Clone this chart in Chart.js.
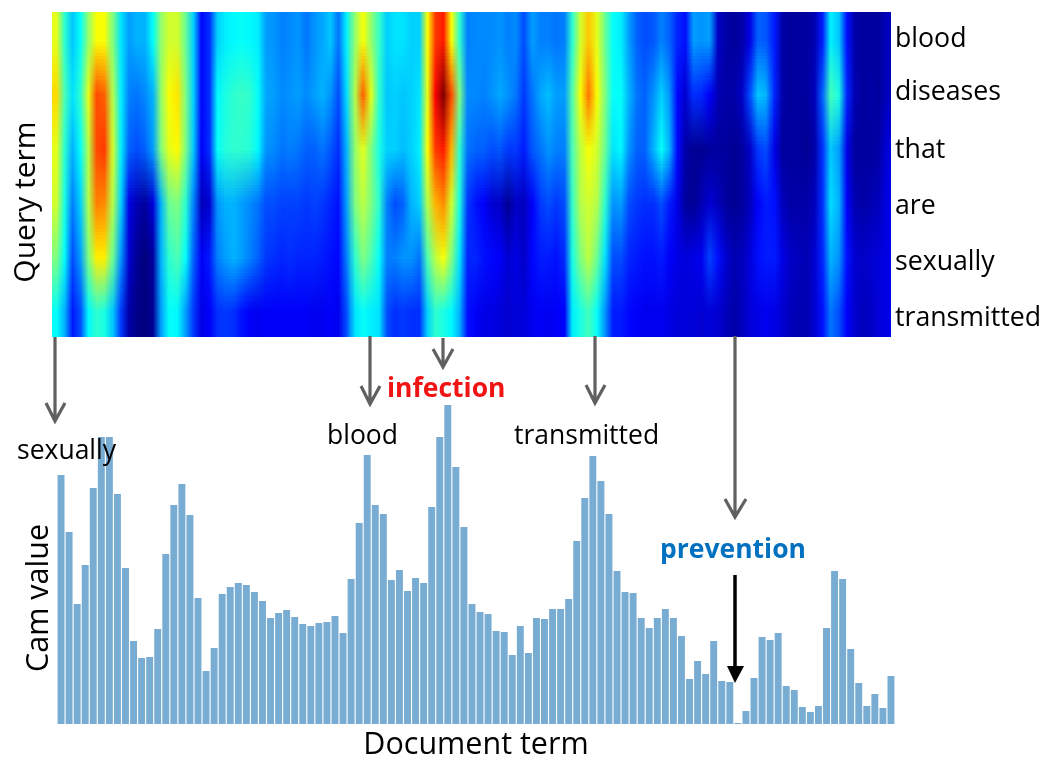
<!DOCTYPE html>
<html>
<head>
<meta charset="utf-8">
<script src="https://cdn.jsdelivr.net/npm/chart.js@4"></script>
<style>
    html, body { margin: 0; padding: 0; background: #fff; overflow: hidden; }
    #page { position: relative; width: 1055px; height: 768px; font-family: "Open Sans", sans-serif; color: #000; }
    #heatBox { position: absolute; left: 0; top: 0; width: 1055px; height: 345px; }
    #barBox { position: absolute; left: 0; top: 390px; width: 1055px; height: 378px; }
    #arrows { position: absolute; left: 0; top: 0; }
    .label { position: absolute; white-space: nowrap; font-size: 26.5px; line-height: 30px; transform: translateY(-50%); }
    .bold { font-weight: 700; }
    .side { position: absolute; white-space: nowrap; font-size: 30px; line-height: 34px; transform: translate(-50%, -50%) rotate(-90deg); }
</style>
</head>
<body>
<div id="page">
    <div id="heatBox"><canvas id="heatChart"></canvas></div>
    <div id="barBox"><canvas id="camChart"></canvas></div>
    <svg id="arrows" width="1055" height="768">
        <g fill="none" stroke="#606060" stroke-width="3.2">
            <path d="M55 337V421M46 403L55 421L65 403"/>
            <path d="M370 336V404M361 386L370 404L380 386"/>
            <path d="M443 338V367M433 349L443 367L453 349"/>
            <path d="M595 336V403M586 385L595 403L605 385"/>
            <path d="M735 336V517M725 499L735 517L746 499"/>
        </g>
        <path d="M735 575V668" fill="none" stroke="#000" stroke-width="3.5"/>
        <path d="M727 666H744L735 683Z" fill="#000"/>
    </svg>
    <div class="side" style="left:24px;top:202px">Query term</div>
    <div class="side" style="left:36px;top:598px;font-size:30.5px">Cam value</div>
    <div class="label" style="left:17px;top:449px">sexually</div>
    <div class="label" style="left:327px;top:434px">blood</div>
    <div class="label" style="left:514px;top:434px">transmitted</div>
    <div class="label bold" style="left:387px;top:387px;color:#f01414">infection</div>
    <div class="label bold" style="left:660px;top:548px;color:#0070c0">prevention</div>
</div>
<script>
    // Query terms, top row first
    const queryTerms = ['blood', 'diseases', 'that', 'are', 'sexually', 'transmitted'];
    // Where each query term label sits on the row axis (0 bottom, 6 top)
    const queryTickValues = [5.5, 4.52, 3.45, 2.42, 1.38, 0.35];

    // Cam value per document term
    const camValues = [249, 192, 120, 159, 236, 287, 287, 230, 156, 83, 66, 67, 95, 170, 219, 240, 209, 126, 53, 76, 130, 137, 141, 139, 132, 123, 106, 111, 114, 107, 100, 98, 101, 102, 108, 91, 145, 201, 269, 219, 210, 144, 154, 133, 146, 141, 217, 287, 319, 257, 197, 120, 112, 110, 93, 92, 69, 98, 71, 106, 105, 115, 115, 125, 183, 226, 268, 243, 210, 153, 132, 131, 106, 96, 106, 115, 106, 88, 45, 63, 50, 83, 43, 42, 1, 13, 46, 87, 84, 91, 38, 34, 17, 12, 18, 96, 153, 145, 75, 41, 18, 30, 16, 48];

    // Heatmap rows, value 0..1 per document term
    const rowBlood = [.6, .42, .32, .38, .52, .62, .62, .5, .35, .28, .3, .3, .38, .52, .58, .58, .48, .33, .13, .17, .33, .36, .37, .38, .37, .36, .28, .27, .25, .26, .27, .24, .27, .29, .32, .24, .36, .52, .62, .52, .43, .33, .35, .35, .33, .33, .62, .82, .85, .62, .42, .25, .26, .26, .26, .27, .25, .26, .2, .28, .25, .25, .24, .25, .42, .58, .68, .6, .48, .38, .36, .28, .22, .2, .21, .25, .22, .16, .14, .28, .27, .28, .07, .04, .03, .04, .1, .22, .21, .15, .04, .03, .03, .03, .05, .15, .36, .32, .14, .04, .03, .03, .03, .06];
    const rowDiseases = [.66, .45, .35, .42, .6, .8, .78, .55, .36, .25, .24, .26, .3, .52, .62, .65, .5, .33, .13, .17, .37, .4, .42, .43, .42, .38, .29, .28, .26, .27, .28, .26, .28, .3, .27, .2, .34, .55, .78, .6, .42, .32, .33, .32, .33, .35, .6, .88, 1, .8, .5, .26, .26, .25, .27, .29, .27, .24, .18, .24, .29, .31, .28, .28, .46, .62, .76, .62, .5, .38, .38, .3, .24, .22, .27, .33, .27, .13, .08, .17, .16, .12, .05, .04, .04, .07, .2, .32, .3, .16, .04, .03, .03, .03, .06, .22, .44, .4, .16, .05, .03, .04, .03, .06];
    const rowThat = [.6, .42, .3, .38, .55, .8, .82, .58, .36, .22, .2, .22, .28, .5, .6, .63, .5, .32, .12, .17, .38, .41, .42, .42, .41, .37, .27, .26, .24, .25, .24, .22, .22, .24, .21, .17, .3, .52, .6, .5, .4, .33, .33, .31, .33, .36, .62, .82, .85, .7, .42, .24, .22, .22, .2, .21, .18, .18, .15, .21, .24, .27, .25, .25, .45, .56, .62, .58, .48, .35, .37, .27, .22, .22, .3, .38, .3, .13, .04, .02, .02, .03, .03, .03, .02, .03, .07, .18, .2, .1, .03, .03, .03, .02, .04, .17, .32, .28, .1, .03, .03, .03, .04, .09];
    const rowAre = [.58, .4, .25, .33, .55, .75, .74, .55, .33, .1, .05, .03, .09, .3, .48, .5, .42, .25, .06, .08, .27, .3, .3, .28, .26, .24, .2, .2, .19, .19, .19, .18, .19, .18, .16, .14, .28, .5, .56, .5, .42, .25, .2, .22, .3, .33, .55, .7, .74, .58, .4, .18, .14, .12, .08, .07, .02, .07, .06, .12, .18, .2, .18, .2, .43, .55, .58, .55, .42, .27, .28, .2, .18, .17, .17, .2, .15, .1, .03, .02, .05, .08, .06, .03, .02, .03, .06, .12, .15, .14, .06, .04, .04, .04, .06, .17, .34, .3, .12, .05, .04, .05, .06, .1];
    const rowSexually = [.5, .38, .2, .28, .5, .64, .64, .48, .27, .08, .02, 0, .03, .3, .42, .45, .38, .22, .12, .15, .25, .28, .3, .28, .25, .22, .18, .17, .16, .17, .16, .16, .16, .15, .14, .13, .25, .42, .5, .45, .38, .25, .25, .27, .27, .24, .45, .56, .62, .5, .35, .16, .16, .14, .13, .12, .08, .1, .07, .13, .15, .15, .14, .17, .4, .5, .56, .48, .35, .2, .2, .16, .15, .14, .14, .15, .12, .1, .09, .1, .11, .19, .14, .08, .05, .06, .09, .14, .15, .15, .1, .07, .06, .05, .08, .16, .3, .27, .14, .08, .07, .08, .09, .1];
    const rowTransmitted = [.38, .3, .15, .2, .37, .42, .4, .32, .18, .04, .01, 0, .02, .28, .38, .37, .28, .18, .1, .12, .17, .18, .17, .14, .12, .11, .12, .12, .12, .12, .12, .12, .11, .11, .12, .11, .2, .35, .38, .36, .35, .2, .17, .18, .17, .17, .33, .42, .4, .37, .3, .14, .12, .1, .1, .09, .08, .09, .09, .11, .12, .11, .12, .12, .36, .4, .44, .38, .27, .15, .15, .13, .12, .11, .11, .11, .1, .09, .09, .09, .08, .09, .08, .06, .04, .06, .09, .1, .11, .1, .08, .06, .05, .05, .08, .14, .24, .2, .12, .08, .06, .07, .09, .1];
    const heatRows = [rowBlood, rowDiseases, rowThat, rowAre, rowSexually, rowTransmitted];

    const termIndex = camValues.map((v, i) => i + 1);

    // Classic jet colour map
    function jet(v) {
        const channel = (c) => Math.round(255 * Math.max(0, Math.min(1, 1.5 - Math.abs(4 * v - c))));
        return `rgb(${channel(3)},${channel(2)},${channel(1)})`;
    }

    // Bars are painted one cell per value, then resampled so the cells blend into each other
    const smoothCells = {
        id: 'smoothCells',
        afterDatasetsDraw(chart) {
            const area = chart.chartArea;
            const ratio = chart.currentDevicePixelRatio;
            const small = document.createElement('canvas');
            small.width = termIndex.length;
            small.height = queryTerms.length;
            const smallCtx = small.getContext('2d');
            smallCtx.imageSmoothingEnabled = false;
            smallCtx.drawImage(chart.canvas, area.left * ratio, area.top * ratio, area.width * ratio, area.height * ratio, 0, 0, small.width, small.height);
            const ctx = chart.ctx;
            ctx.save();
            ctx.imageSmoothingEnabled = true;
            ctx.imageSmoothingQuality = 'low';
            ctx.drawImage(small, area.left, area.top, area.width, area.height);
            ctx.restore();
        }
    };

    new Chart(document.getElementById('heatChart'), {
        type: 'bar',
        plugins: [smoothCells],
        data: {
            labels: termIndex,
            // every cell has height 1, the colour carries the value; stack runs bottom row first
            datasets: heatRows.slice().reverse().map((row, i) => ({
                label: queryTerms[queryTerms.length - 1 - i],
                data: row.map(() => 1),
                backgroundColor: row.map(jet),
                borderWidth: 0,
                barPercentage: 1,
                categoryPercentage: 1
            }))
        },
        options: {
            responsive: true,
            maintainAspectRatio: false,
            animation: false,
            layout: { padding: { left: 52, top: 12, bottom: 8 } },
            plugins: { legend: { display: false }, tooltip: { enabled: false } },
            scales: {
                x: { stacked: true, display: false },
                y: {
                    stacked: true,
                    position: 'right',
                    min: 0,
                    max: 6,
                    afterBuildTicks: (scale) => {
                        scale.ticks = queryTickValues.map((value) => ({ value }));
                    },
                    afterFit: (scale) => {
                        scale.width = 164;
                        scale.paddingTop = 0;
                        scale.paddingBottom = 0;
                    },
                    grid: { display: false, drawTicks: false },
                    border: { display: false },
                    ticks: {
                        autoSkip: false,
                        padding: 4,
                        color: '#000',
                        font: { family: '"Open Sans", sans-serif', size: 26.7 },
                        callback: (value, index) => queryTerms[index]
                    }
                }
            }
        }
    });

    new Chart(document.getElementById('camChart'), {
        type: 'bar',
        data: {
            labels: termIndex,
            datasets: [{
                label: 'Cam value',
                data: camValues,
                backgroundColor: '#78acd3',
                borderWidth: 0,
                barPercentage: 0.86,
                categoryPercentage: 1
            }]
        },
        options: {
            responsive: true,
            maintainAspectRatio: false,
            animation: false,
            layout: { padding: { left: 57, right: 160, top: 14 } },
            plugins: { legend: { display: false }, tooltip: { enabled: false } },
            scales: {
                x: {
                    grid: { display: false },
                    border: { display: false },
                    ticks: { display: false },
                    afterFit: (scale) => { scale.height = 44; },
                    title: {
                        display: true,
                        text: 'Document term',
                        color: '#000',
                        padding: { top: 6 },
                        font: { family: '"Open Sans", sans-serif', size: 30.5 }
                    }
                },
                y: { display: false, min: 0, max: 320 }
            }
        }
    });
</script>
</body>
</html>
